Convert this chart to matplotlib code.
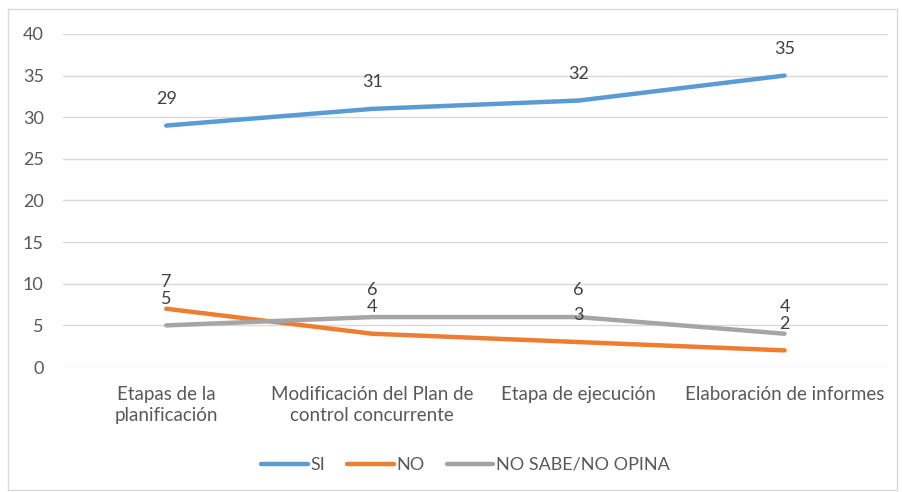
import matplotlib.pyplot as plt
from matplotlib.patches import Rectangle

# Data
categories = ['Etapas de la\nplanificación', 'Modificación del Plan de\ncontrol concurrente',
              'Etapa de ejecución', 'Elaboración de informes']
si = [29, 31, 32, 35]
no = [7, 4, 3, 2]
ns_no = [5, 6, 6, 4]
series_names = ['SI', 'NO', 'NO SABE/NO OPINA']
colors = ['#5B9BD5', '#ED7D31', '#A5A5A5']
yticks = [0, 5, 10, 15, 20, 25, 30, 35, 40]

plt.rcParams['font.family'] = ['Lato', 'DejaVu Sans']
text_color = '#595959'

fig = plt.figure(figsize=(9.02, 4.92), dpi=100)
fig.patches.append(Rectangle((0.009, 0.004), 0.985, 0.978, transform=fig.transFigure,
                             fill=False, edgecolor='#D9D9D9', linewidth=1))
ax = fig.add_axes([0.070, 0.254, 0.914, 0.677])

x = list(range(len(categories)))
for vals, name, col in zip([si, no, ns_no], series_names, colors):
    ax.plot(x, vals, color=col, linewidth=3.2, solid_capstyle='round', label=name, zorder=3)
    for xi, v in zip(x, vals):
        ax.text(xi, v + 3.2, str(v), ha='center', va='center', fontsize=13,
                color='#404040', zorder=4)

ax.set_xlim(-0.5, 3.5)
ax.set_ylim(0, 40)
ax.set_yticks(yticks)
ax.set_xticks(x)
ax.set_xticklabels(categories, fontsize=13.5, color=text_color, linespacing=1.25)
ax.tick_params(axis='y', labelsize=13, labelcolor=text_color, length=0, pad=14)
ax.tick_params(axis='x', length=0, pad=14)
ax.grid(axis='y', color='#D9D9D9', linewidth=1)
ax.set_axisbelow(True)
for s in ax.spines.values():
    s.set_visible(False)

fig.legend(loc='center', bbox_to_anchor=(0.516, 0.055), ncol=3, frameon=False,
           fontsize=13, labelcolor=text_color, handlelength=2.6, handletextpad=0.15,
           columnspacing=1.2)

fig.savefig('out.png', dpi=100)
